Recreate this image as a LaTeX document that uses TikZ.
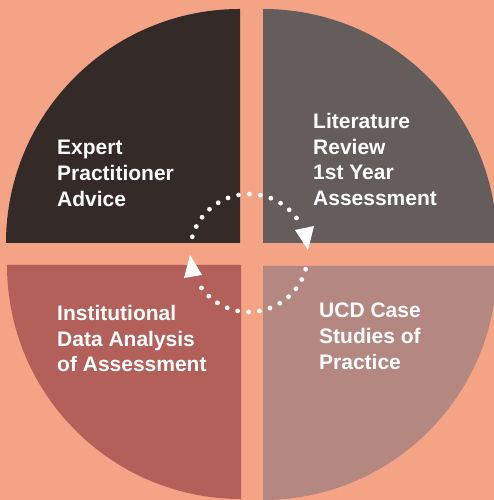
\documentclass[tikz,border=0pt]{standalone}
\usepackage{fontspec}
\setmainfont{Liberation Sans}
\usetikzlibrary{calc}
\definecolor{bgc}{HTML}{F5A385}
\definecolor{qtl}{HTML}{342A28}
\definecolor{qtr}{HTML}{645D5C}
\definecolor{qbl}{HTML}{B3605A}
\definecolor{qbr}{HTML}{B58781}
\tikzset{
  lbl/.style={anchor=north west, inner sep=0pt, align=left, text=white,
    font=\fontsize{21}{25.7}\selectfont\bfseries},
  dotarc/.style={white, line width=4.8pt, line cap=round, dash pattern=on 0pt off 10.95pt},
  headfill/.style={fill=white}
}
\begin{document}
\begin{tikzpicture}[x=1pt,y=1pt]
\useasboundingbox (0,0) rectangle (494,500);
\fill[bgc] (0,0) rectangle (494,500);
\begin{scope}
\clip (0,0) rectangle (494,500);
\fill[qtl] (240,257) -- (6,257) arc[start angle=180, end angle=90, radius=234] -- cycle;
\fill[qtr] (263,257) -- (263,491) arc[start angle=90, end angle=0, radius=234] -- cycle;
\fill[qbl] (241,235) -- (7,235) arc[start angle=180, end angle=270, radius=234] -- cycle;
\fill[qbr] (263,234) -- (497,234) arc[start angle=0, end angle=-90, radius=234] -- cycle;
\end{scope}
\coordinate (c) at (249,247);
% dotted cycle arcs
\draw[dotarc] ($(c)+(164:59)$) arc[start angle=164, end angle=27, radius=59];
\draw[dotarc] ($(c)+(-16:59)$) arc[start angle=-16, end angle=-153, radius=59];
% arrow heads
\fill[headfill] ($(c)+(46,23)$) -- ($(c)+(65,27)$) -- ($(c)+(59,3)$) -- cycle;
\fill[headfill] ($(c)+(-65,-25)$) -- ($(c)+(-47,-22)$) -- ($(c)+(-59,-2)$) -- cycle;
% labels
\node[lbl] (tl) at (57,360) {Expert\\Practitioner\\Advice};
\node[lbl] (tr) at (313,387) {Literature\\Review\\1st Year\\Assessment};
\node[lbl] (bl) at (57,195) {Institutional\\Data Analysis\\of Assessment};
\node[lbl] (br) at (319,197) {UCD Case\\Studies of\\Practice};
\end{tikzpicture}
\end{document}
